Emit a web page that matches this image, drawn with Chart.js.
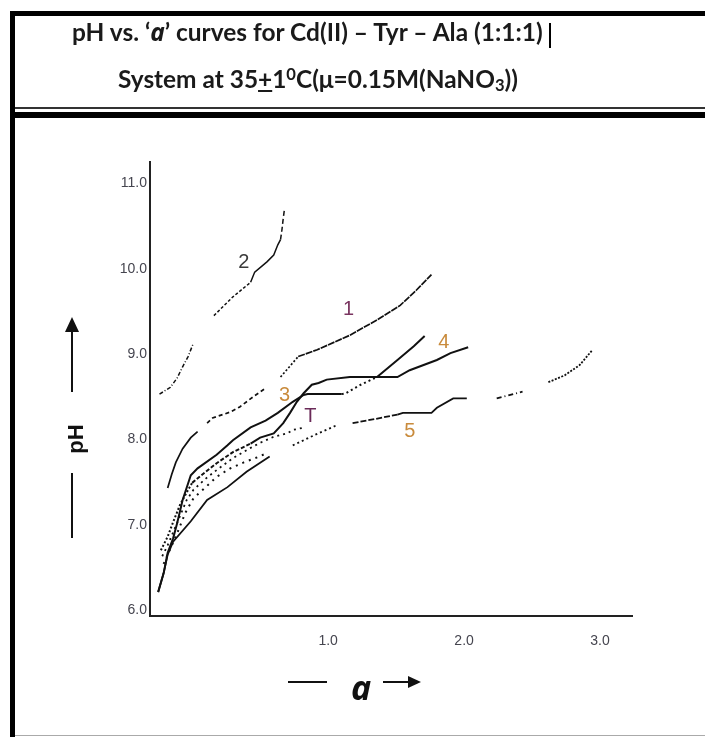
<!DOCTYPE html>
<html><head><meta charset="utf-8">
<script src="https://cdn.jsdelivr.net/npm/chart.js@4.4.1/dist/chart.umd.min.js"></script>
<style>
html,body{margin:0;padding:0;background:#fff;}
#wrap{position:relative;width:705px;height:737px;overflow:hidden;background:#fff;}
#chart{position:absolute;left:0;top:0;z-index:1;}
.bar{position:absolute;background:#000;}
.hdr{position:absolute;white-space:nowrap;font-family:Lato,'Open Sans',sans-serif;font-weight:700;color:#1a1a1a;line-height:1;z-index:2;}
.hdr i{font-family:'Noto Sans','Open Sans',sans-serif;font-style:italic;}
.sp{position:relative;font-size:0.68em;}
</style></head><body>
<div id="wrap">
 <div class="bar" style="left:10px;top:11px;width:5px;height:726px"></div>
 <div class="bar" style="left:10px;top:11px;width:695px;height:5px"></div>
 <div class="bar" style="left:15px;top:107px;width:690px;height:2px;background:#333"></div>
 <div class="bar" style="left:15px;top:112px;width:690px;height:6px"></div>
 <div class="bar" style="left:15px;top:735px;width:690px;height:1px;background:#aaa"></div>
 <div id="t1" class="hdr">pH vs. ‘<i>a</i>’ curves for Cd(II) – Tyr – Ala (1:1:1)<span class="bl" style="display:inline-block;width:0;height:0"></span></div>
 <div id="cursor" class="bar" style="width:2px;height:25px;top:23px;left:549px"></div>
 <div id="t2" class="hdr">System at 35<u>+</u>1<span class="sp" style="top:-0.5em">0</span>C(μ=0.15M(NaNO<span class="sp" style="top:0.2em">3</span>))<span class="bl" style="display:inline-block;width:0;height:0"></span></div>
 <canvas id="chart" width="705" height="737"></canvas>
</div>
<script>
// ---------- data ----------
const xTicks = [1, 2, 3];
const xTickLabels = ['1.0', '2.0', '3.0'];
const yTicks = [6, 7, 8, 9, 10, 11];
const yTickLabels = ['6.0', '7.0', '8.0', '9.0', '10.0', '11.0'];

const curve1A  = [-0.18,-0.15,-0.12,-0.07,-0.01,0.04,0.11,0.15,0.28,0.35,0.45,0.54,0.65,0.78,0.92,1.16,1.36,1.53,1.65,1.76];
const curve1PH = [7.43,7.59,7.73,7.89,8.02,8.09,8.19,8.25,8.32,8.38,8.50,8.60,8.73,8.97,9.05,9.22,9.40,9.57,9.75,9.93];

const curve2A  = [-0.24,-0.16,-0.11,-0.07,-0.03,0.01,0.16,0.30,0.43,0.46,0.55,0.60,0.63,0.65,0.66,0.67,0.68];
const curve2PH = [8.53,8.61,8.72,8.85,8.97,9.13,9.45,9.67,9.84,9.96,10.08,10.16,10.28,10.34,10.45,10.59,10.71];

const curve3A  = [-0.25,-0.21,-0.18,-0.14,-0.11,-0.07,-0.01,0.04,0.18,0.26,0.30,0.43,0.54,0.63,0.74,0.82,0.85,1.10,1.13,1.24,1.36,1.51,1.63,1.71];
const curve3PH = [6.21,6.43,6.67,6.84,7.02,7.29,7.58,7.66,7.82,7.93,7.99,8.14,8.22,8.31,8.44,8.52,8.53,8.53,8.54,8.64,8.73,8.93,9.09,9.21];

const curve4A  = [-0.23,-0.18,-0.14,-0.09,-0.04,0.00,0.10,0.18,0.30,0.43,0.50,0.60,0.67,0.72,0.77,0.82,0.88,0.93,0.99,1.16,1.51,1.60,1.80,1.90,2.03];
const curve4PH = [6.70,6.86,7.03,7.23,7.38,7.49,7.62,7.72,7.85,7.95,8.02,8.07,8.19,8.31,8.44,8.54,8.64,8.66,8.70,8.73,8.73,8.81,8.93,9.01,9.08];

const curve5A  = [-0.25,-0.21,-0.18,-0.14,-0.01,0.11,0.26,0.40,0.57,0.74,0.90,1.07,1.18,1.35,1.51,1.55,1.76,1.80,1.92,2.02,2.24,2.43,2.62,2.74,2.85,2.94];
const curve5PH = [6.21,6.43,6.65,6.80,7.04,7.29,7.44,7.62,7.80,7.93,8.05,8.17,8.19,8.24,8.29,8.31,8.31,8.37,8.48,8.48,8.48,8.56,8.67,8.75,8.87,9.04];

const curveTA  = [-0.22,-0.18,-0.14,-0.09,-0.04,0.01,0.10,0.18,0.30,0.43,0.50,0.60,0.70,0.74,0.83];
const curveTPH = [6.63,6.76,6.91,7.10,7.29,7.41,7.54,7.64,7.78,7.90,7.96,8.03,8.07,8.11,8.14];

const curve6A  = [-0.21,-0.16,-0.11,-0.05,0.01,0.10,0.18,0.28,0.38,0.48,0.55];
const curve6PH = [6.54,6.72,6.90,7.14,7.31,7.44,7.56,7.66,7.73,7.79,7.84];

const curveLabels  = ['1', '2', '3', '4', '5', 'T'];
const curveLabelA  = [1.15, 0.38, 0.68, 1.85, 1.60, 0.87];
const curveLabelPH = [9.52, 10.07, 8.51, 9.14, 8.09, 8.27];

// ---------- styles ----------
const labelColors = ['#7a3560', '#3a3a3a', '#c98b3c', '#c98b3c', '#c98b3c', '#6a2a58'];
const style1 = [{from:5,to:5,gap:true},{from:6,to:10,dash:[4,3]},{from:11,to:11,gap:true},{from:12,to:12,dash:[2,2]},{from:13,to:18,dash:[7,1]}];
const style2 = [{from:0,to:4,dash:[4,2,1,2]},{from:5,to:5,gap:true},{from:6,to:7,dash:[3,2]},{from:13,to:15,dash:[5,3]}];
const style3 = [{from:17,to:19,dash:[2,3]}];
const style4 = [{from:0,to:4,dash:[2,2]},{from:5,to:8,dash:[4,2]}];
const style5 = [{from:8,to:8,gap:true},{from:9,to:10,dash:[2,3]},{from:11,to:11,gap:true},{from:12,to:13,dash:[6,2]},{from:19,to:19,gap:true},{from:20,to:20,dash:[5,3,1,3]},{from:21,to:21,gap:true},{from:22,to:24,dash:[2,1.5]}];
const styleT = [{from:0,to:99,dash:[2,4]}];
const style6 = [{from:0,to:99,dash:[2,5]}];

function segStyle(styles, i) {
  for (const s of styles) if (i >= s.from && i <= s.to) return s;
  return {dash: []};
}
function mkDataset(name, xs, ys, styles, width) {
  return {
    label: name,
    data: xs.map((x, i) => ({x: x, y: ys[i]})),
    borderColor: '#111', borderWidth: width, pointRadius: 0, tension: 0, fill: false,
    segment: {
      borderDash: ctx => segStyle(styles, ctx.p0DataIndex).dash || [],
      borderColor: ctx => segStyle(styles, ctx.p0DataIndex).gap ? 'rgba(0,0,0,0)' : '#111'
    }
  };
}

// ---------- header layout ----------
function fitHeader(id, left, baseline, width) {
  const el = document.getElementById(id);
  el.style.left = left + 'px'; el.style.top = '0px'; el.style.fontSize = '20px';
  const w = el.getBoundingClientRect().width;
  el.style.fontSize = (20 * width / w) + 'px';
  const bl = el.querySelector('.bl').getBoundingClientRect().top;
  el.style.top = (baseline - bl) + 'px';
}
function layoutHeader() {
  fitHeader('t1', 72, 41, 471);
  fitHeader('t2', 118, 88, 400);
}
layoutHeader();
if (document.fonts && document.fonts.ready) document.fonts.ready.then(layoutHeader);

// ---------- decorations ----------
const deco = {
  id: 'deco',
  afterDatasetsDraw(chart) {
    const {ctx, scales: {x, y}} = chart;
    ctx.save();
    ctx.font = '20px "Liberation Sans", Arial, sans-serif';
    ctx.textAlign = 'center'; ctx.textBaseline = 'middle';
    curveLabels.forEach((t, i) => {
      ctx.fillStyle = labelColors[i];
      ctx.fillText(t, x.getPixelForValue(curveLabelA[i]), y.getPixelForValue(curveLabelPH[i]));
    });
    // y title
    ctx.fillStyle = '#111'; ctx.strokeStyle = '#111'; ctx.lineWidth = 2;
    ctx.save();
    ctx.translate(77, 439); ctx.rotate(-Math.PI / 2);
    ctx.font = 'bold 22px "Liberation Sans", Arial, sans-serif';
    ctx.fillText('pH', 0, 0);
    ctx.restore();
    ctx.beginPath(); ctx.moveTo(72, 392); ctx.lineTo(72, 330); ctx.stroke();
    ctx.beginPath(); ctx.moveTo(72, 317); ctx.lineTo(65, 332); ctx.lineTo(79, 332); ctx.closePath(); ctx.fill();
    ctx.beginPath(); ctx.moveTo(72, 473); ctx.lineTo(72, 538); ctx.stroke();
    // x title
    ctx.beginPath(); ctx.moveTo(288, 682); ctx.lineTo(327, 682); ctx.stroke();
    ctx.font = 'italic bold 34px "Noto Sans", "Open Sans", sans-serif';
    ctx.textBaseline = 'alphabetic';
    ctx.fillText('a', 361, 700);
    ctx.beginPath(); ctx.moveTo(383, 682); ctx.lineTo(410, 682); ctx.stroke();
    ctx.beginPath(); ctx.moveTo(421, 682); ctx.lineTo(408, 676); ctx.lineTo(408, 688); ctx.closePath(); ctx.fill();
    ctx.restore();
  }
};

const tickFont = {family: "'Liberation Sans', Arial, sans-serif", size: 14};

new Chart(document.getElementById('chart'), {
  type: 'line',
  data: {
    datasets: [
      mkDataset('1', curve1A, curve1PH, style1, 1.7),
      mkDataset('2', curve2A, curve2PH, style2, 1.5),
      mkDataset('3', curve3A, curve3PH, style3, 2),
      mkDataset('4', curve4A, curve4PH, style4, 2),
      mkDataset('5', curve5A, curve5PH, style5, 1.8),
      mkDataset('T', curveTA, curveTPH, styleT, 1.8),
      mkDataset('6', curve6A, curve6PH, style6, 2)
    ]
  },
  options: {
    responsive: false, animation: false, devicePixelRatio: 1,
    layout: {padding: {left: 0, top: 162, right: 73, bottom: 0}},
    plugins: {legend: {display: false}, tooltip: {enabled: false}},
    scales: {
      x: {
        type: 'linear', min: -0.31, max: 3.235,
        afterBuildTicks: s => { s.ticks = xTicks.map(v => ({value: v})); },
        afterFit: s => { s.height = 121; },
        ticks: {callback: v => xTickLabels[xTicks.indexOf(v)], font: tickFont, color: '#45454f', padding: 17, maxRotation: 0, autoSkip: false},
        grid: {display: false, drawTicks: false},
        border: {display: true, color: '#222', width: 2}
      },
      y: {
        type: 'linear', min: 5.93, max: 11.25,
        afterBuildTicks: s => { s.ticks = yTicks.map(v => ({value: v})); },
        afterFit: s => { s.width = 150; },
        ticks: {callback: v => yTickLabels[yTicks.indexOf(v)], font: tickFont, color: '#45454f', padding: 3, autoSkip: false},
        grid: {display: false, drawTicks: false},
        border: {display: true, color: '#222', width: 2}
      }
    }
  },
  plugins: [deco]
});
</script>
</body></html>
